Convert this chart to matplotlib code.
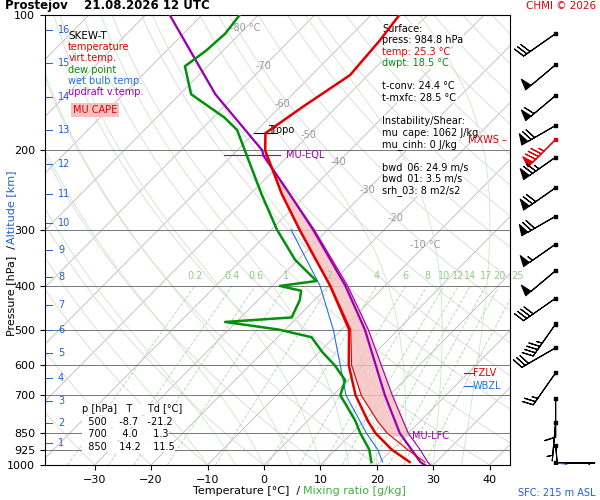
import numpy as np
import matplotlib
matplotlib.use("Agg")
import matplotlib.pyplot as plt

SKEW = 79.0
def X(T, p):
    return np.asarray(T) + SKEW*np.log10(1000.0/np.asarray(p))

# ---- data ----
p_t  = [985, 925, 850, 800, 700, 600, 500, 400, 300, 250, 200, 183, 160, 136, 114, 100]
t_t  = [25.3, 20.0, 14.2, 10.8, 4.0, -2.5, -8.7, -19.7, -35.0, -44.4, -55.0, -58.0, -56.0, -53.2, -54.0, -55.0]
t_v  = [28.0, 22.8, 16.3, 12.5, 5.0, -2.0, -8.4, -19.6, -35.0, -44.4, -55.0, -58.0, -56.0, -53.2, -54.0, -55.0]
p_d  = [985, 925, 850, 794, 700, 648, 600, 561, 520, 500, 481, 470, 430, 410, 400, 390, 350, 300, 250, 200, 180, 169, 150, 130, 120, 110, 100]
t_d  = [18.5, 16.0, 11.5, 8.2, 1.3, -0.5, -5.0, -9.5, -14.0, -21.2, -32.0, -21.0, -22.6, -24.0, -28.6, -23.0, -30.5, -39.0, -48.0, -58.6, -63.6, -68.0, -78.0, -84.0, -83.0, -82.6, -83.3]
p_w  = [985, 925, 850, 700, 600, 500, 400, 300]
t_w  = [20.5, 17.5, 12.6, 2.3, -4.0, -11.5, -21.5, -36.5]
p_par = [1000, 985, 925, 850, 700, 500, 400, 300, 250, 205, 200, 150, 100]
t_par = [28.5, 27.2, 23.5, 18.5, 9.2, -5.9, -17.0, -32.6, -43.0, -54.5, -55.5, -73.7, -95.7]
t_upv = [29.5, 28.5, 25.0, 20.0, 10.5, -5.3, -16.6, -32.4, -43.0, -54.5, -55.5, -73.7, -95.7]
wind_p   = [110, 129, 151, 176, 189, 207, 242, 280, 323, 370, 426, 486, 549, 624, 710, 803, 903, 990]
wind_dir = [235, 230, 230, 240, 225, 235, 235, 240, 235, 230, 235, 215, 240, 215, 180, 185, 175, 90]
wind_kt  = [30, 50, 60, 70, 85, 75, 70, 70, 55, 50, 40, 45, 30, 25, 10, 5, 5, 3]
alt_km = list(range(1, 17))
alt_p  = [895, 805, 720, 640, 565, 500, 440, 383, 333, 290, 250, 214, 180, 152, 128, 108]

fig = plt.figure(figsize=(6, 5), dpi=100)
ax = fig.add_axes([0.075, 0.07, 0.775, 0.90])
ax.set_yscale('log')
ax.set_ylim(1000, 100)
ax.set_xlim(-38.8, 43.6)
pg = np.logspace(3, 2, 200)

for T in range(-140, 50, 10):
    ax.plot(X(T, pg), pg, color='#bbbbbb', lw=0.6, zorder=1)
for th in range(-30, 230, 10):
    T = (th+273.15)*(pg/1000.0)**0.286 - 273.15
    ax.plot(X(T, pg), pg, color='#d8d8d8', lw=0.6, zorder=1)
def esat(T): return 6.112*np.exp(17.67*T/(T+243.5))
for T0 in range(-10, 40, 5):
    ps = np.logspace(3, 2, 300); Ts = [T0]; T = T0
    for i in range(1, len(ps)):
        Tk = T+273.15; p = ps[i-1]
        rs = 0.622*esat(T)/(p-esat(T))
        L = 2.5e6; Rd = 287.; cp = 1005.; eps = 0.622
        dTdp = (Rd*Tk + L*rs)/(p*(cp + L*L*rs*eps/(Rd*Tk*Tk)))
        T = T + dTdp*(ps[i]-p); Ts.append(T)
    ax.plot(X(np.array(Ts), ps), ps, color='#cfe3cf', lw=0.6, zorder=1)
wlist = [0.2, 0.4, 0.6, 1, 2, 4, 6, 8, 10, 12, 14, 17, 20, 25]
pm = np.logspace(3, np.log10(400), 50)
for w in wlist:
    e = w*pm/(622+w); l = np.log(e/6.112)
    Td = 243.5*l/(17.67-l)
    ax.plot(X(Td, pm), pm, color='#a8dca0', lw=0.6, ls=(0, (4, 2)), zorder=1)
    ax.text(X(Td[-1], 400), 390, f"{w:g}", color='#8fcf80', fontsize=7, ha='center', va='bottom')
for p in [100, 200, 300, 400, 500, 600, 700, 850, 925, 1000]:
    ax.axhline(p, color='#777777', lw=0.7, zorder=1)
for T, p in [(-80, 107), (-70, 130), (-60, 158), (-50, 185), (-40, 212), (-30, 245), (-20, 283), (-10, 325)]:
    s = f"{T} °C" if T in (-80, -10) else f"{T}"
    ax.text(X(T, p), p, s, color='#999999', fontsize=7, ha='center', va='center', zorder=2)

pc = np.logspace(np.log10(860), np.log10(205), 100)
par_i = np.interp(np.log(pc), np.log(p_par[::-1]), t_upv[::-1])
tv_i = np.interp(np.log(pc), np.log(p_t[::-1]), t_v[::-1])
ax.fill_betweenx(pc, X(tv_i, pc), X(par_i, pc), color='#f5c0c0', alpha=0.8, zorder=2)

ax.plot(X(t_par, p_par), p_par, color='#9b00b0', lw=1.6, zorder=4)
ax.plot(X(t_upv, p_par), p_par, color='#9b00b0', lw=0.8, zorder=4)
ax.plot(X(t_w, p_w), p_w, color='#2070e0', lw=0.8, zorder=4)
ax.plot(X(t_v, p_t), p_t, color='#e00000', lw=0.8, zorder=4)
ax.plot(X(t_t, p_t), p_t, color='#e00000', lw=1.8, zorder=5)
ax.plot(X(t_d, p_d), p_d, color='#00900a', lw=1.8, zorder=5)

ax.set_xticks(range(-30, 50, 10))
ax.set_yticks([100, 200, 300, 400, 500, 600, 700, 850, 925, 1000])
ax.set_yticklabels(['100', '200', '300', '400', '500', '600', '700', '850', '925', '1000'])
ax.yaxis.set_minor_locator(matplotlib.ticker.NullLocator())
ax.tick_params(labelsize=8)
for hp, km in zip(alt_p, alt_km):
    ax.text(-36.5, hp, str(km), color='#2060d0', fontsize=7, va='center')
    ax.plot([-38.8, -37.6], [hp, hp], color='#2060d0', lw=0.7)

fig.text(0.50, 0.012, "Temperature [°C]  /", ha='right', fontsize=8)
fig.text(0.505, 0.012, "Mixing ratio [g/kg]", ha='left', fontsize=8, color='#40b040')
fig.text(0.018, 0.42, "Pressure [hPa]  /", rotation=90, ha='center', va='center', fontsize=8)
fig.text(0.018, 0.585, "Altitude [km]", rotation=90, ha='center', va='center', fontsize=8, color='#2060d0')
fig.text(0.008, 0.988, "Prostejov    21.08.2026 12 UTC", fontsize=8.5, fontweight='bold', va='center')
fig.text(0.993, 0.988, "CHMI © 2026", fontsize=7.5, color='#e00000', ha='right', va='center')
fig.text(0.993, 0.015, "SFC: 215 m ASL", fontsize=7, color='#2060d0', ha='right', va='center')

leg = [("SKEW-T", 'black'), ("temperature", '#e00000'), ("virt.temp.", '#e00000'),
       ("dew point", '#00900a'), ("wet bulb temp.", '#2070e0'), ("updraft v.temp.", '#9b00b0')]
for i, (s, c) in enumerate(leg):
    ax.text(0.05, 0.965-i*0.025, s, transform=ax.transAxes, color=c, fontsize=7 if i else 7.5, va='top')
ax.text(0.06, 0.80, "MU CAPE", transform=ax.transAxes, color='#e00000', fontsize=7, va='top',
        bbox=dict(fc='#f5c0c0', ec='none', pad=1.5))
surf = ["Surface:", "press: 984.8 hPa", "temp: 25.3 °C", "dwpt: 18.5 °C", "", "t-conv: 24.4 °C",
        "t-mxfc: 28.5 °C", "", "Instability/Shear:", "mu_cape: 1062 J/kg", "mu_cinh: 0 J/kg", "",
        "bwd_06: 24.9 m/s", "bwd_01: 3.5 m/s", "srh_03: 8 m2/s2"]
cols = {2: '#e00000', 3: '#00900a'}
for i, s in enumerate(surf):
    ax.text(0.725, 0.98-i*0.0255, s, transform=ax.transAxes, fontsize=7, color=cols.get(i, 'black'), va='top',
            bbox=dict(fc='white', ec='none', pad=0.3))
tab = ["p [hPa]   T     Td [°C]", "  500    -8.7   -21.2", "  700     4.0     1.3", "  850    14.2    11.5"]
for i, s in enumerate(tab):
    ax.text(0.08, 0.135-i*0.028, s, transform=ax.transAxes, fontsize=7, va='top',
            bbox=dict(fc='white', ec='none', pad=0.3))

ax.text(X(-58, 183)+0.5, 180, "Tropo", fontsize=7, va='center')
ax.plot([X(-58, 183)-2, X(-58, 183)+2], [183, 183], color='k', lw=0.8)
ax.text(X(-54.5, 205)+4, 205, "MU-EQL", fontsize=7, color='#9b00b0', va='center')
ax.plot([X(-54.5, 205)-7, X(-54.5, 205)+3], [205, 205], color='#9b00b0', lw=0.8)
ax.text(X(20, 860)+1, 860, "MU-LFC", fontsize=7, color='#9b00b0', va='center')
ax.text(37, 625, "FZLV", fontsize=7, color='#e00000', va='center')
ax.text(37, 668, "WBZL", fontsize=7, color='#2070e0', va='center')
ax.plot([35.5, 37], [625, 625], color='#e00000', lw=0.8)
ax.plot([35.5, 37], [668, 668], color='#2070e0', lw=0.8)
ax.text(43, 190, "MXWS –", fontsize=7, color='#e00000', va='center', ha='right')

axw = fig.add_axes([0.855, 0.07, 0.145, 0.90], sharey=ax)
axw.set_xlim(0, 1)
axw.axis('off')
d = np.deg2rad(wind_dir); s = np.array(wind_kt, float)
u = -s*np.sin(d); v = -s*np.cos(d)
colors = ['#e00000' if p == 189 else 'black' for p in wind_p]
axw.barbs(np.full(len(wind_p), 0.49), wind_p, u, v, length=7.5, linewidth=0.8, color=colors,
          pivot='tip', barb_increments=dict(half=5, full=10, flag=50),
          sizes=dict(height=0.28, spacing=0.1, width=0.18))
axw.scatter(np.full(len(wind_p), 0.49), wind_p, s=5, c=colors, marker='s', zorder=5)
axw.plot([0.49, 0.6, 0.62], [990, 995, 1000], color='#2060d0', lw=0.8)

fig.savefig("out.png", dpi=100)
